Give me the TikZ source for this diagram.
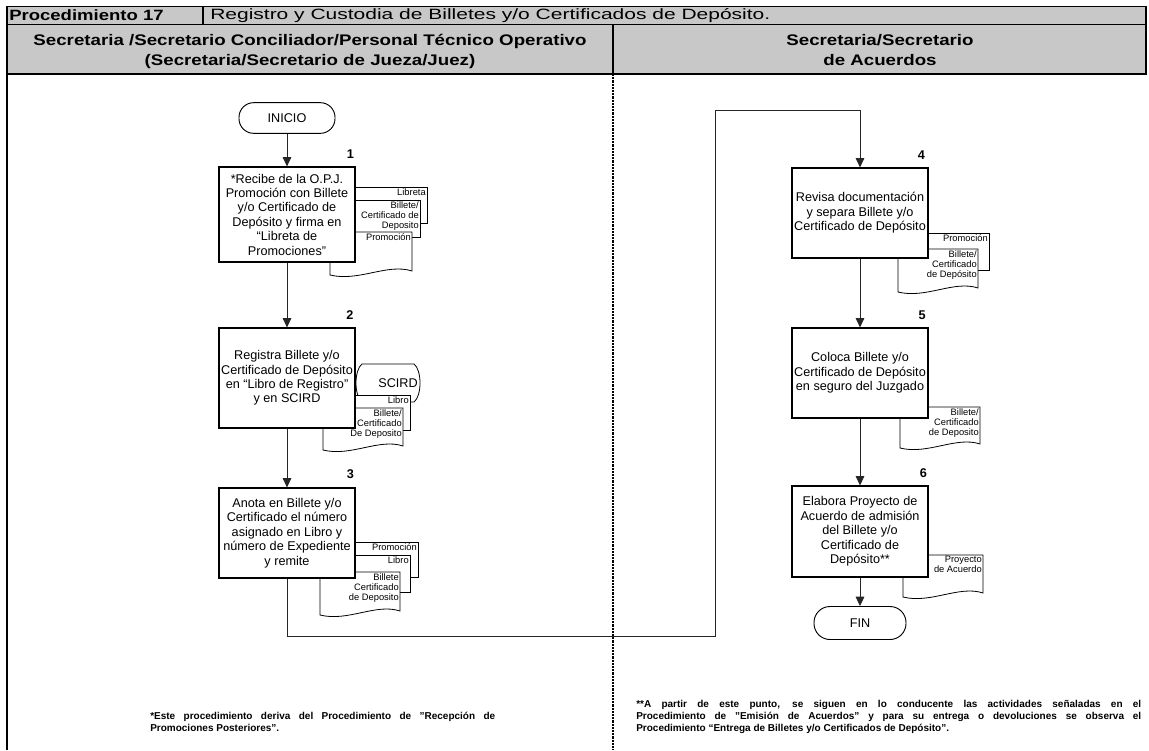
\documentclass[tikz,border=0pt]{standalone}
\usepackage{fontspec}
\setmainfont{Liberation Sans}
\usetikzlibrary{arrows.meta}
\definecolor{hdr}{RGB}{200,200,200}
\newcommand{\docrect}[4]{\draw[docline] (#1,#2) rectangle (#3,#4);}
\newcommand{\docwave}[4]{\draw[docline] (#1,#2) -- (#3,#2) -- (#3,{#4-4}) .. controls ({#3-0.3*(#3-#1)},{#4-12}) and ({#1+0.35*(#3-#1)},{#4+7}) .. (#1,#4) -- cycle;}
\begin{document}
\begin{tikzpicture}[x=0.75pt,y=-0.75pt,
  docline/.style={draw=black, fill=white, line width=0.6pt},
  stepbox/.style={draw, fill=white, line width=0.9pt, minimum width=102pt, align=center, inner sep=1pt, font=\fontsize{9.5}{10.8}\selectfont},
  term/.style={draw, fill=white, line width=0.7pt, rounded corners=11pt, minimum width=72pt, minimum height=23pt, font=\fontsize{9.5}{10.6}\selectfont},
  flow/.style={line width=0.6pt, draw=black!85},
  arr/.style={flow, -{Triangle[length=7pt,width=6.5pt]}},
  doctxt/.style={anchor=north east, align=right, inner sep=0pt, font=\fontsize{7}{7.7}\selectfont},
  stepnum/.style={anchor=south east, inner sep=0pt, font=\bfseries\fontsize{9.5}{10}\selectfont},
  hdrbold/.style={inner sep=0pt, align=center, font=\bfseries\fontsize{11.5}{15.4}\selectfont},
  foot/.style={anchor=north west, inner sep=0pt, align=justify, font=\bfseries\fontsize{7.5}{9}\selectfont}
]
\useasboundingbox (0,0) rectangle (1149,750);
% header
\fill[hdr] (7,6.5) rectangle (1146,74);
\draw[line width=0.8pt] (7,6.5) rectangle (1146,74);
\draw[line width=0.8pt] (7,24.5) -- (1146,24.5);
\draw[line width=0.8pt] (203,6.5) -- (203,24.5);
\draw[line width=0.8pt] (613,24.5) -- (613,74);
\node[anchor=west, inner sep=0pt, font=\bfseries\fontsize{11.2}{12}\selectfont] (p17) at (9,15.5) {\scalebox{1.24}[1]{Procedimiento 17}};
\node[anchor=west, inner sep=0pt, font=\fontsize{11.2}{12}\selectfont] (title) at (210,15.5) {\resizebox{420pt}{\height}{Registro y Custodia de Billetes y/o Certificados de Depósito.}};
\node[hdrbold] (lane1) at (310,51.5) {\scalebox{1.22}[1]{\begin{tabular}{@{}c@{}}Secretaria /Secretario Conciliador/Personal Técnico Operativo\\(Secretaria/Secretario de Jueza/Juez)\end{tabular}}};
\node[hdrbold] (lane2) at (880,51.5) {\scalebox{1.22}[1]{\begin{tabular}{@{}c@{}}Secretaria/Secretario\\de Acuerdos\end{tabular}}};
% body borders
\draw[line width=0.8pt] (7,74) -- (7,750);
\draw[line width=0.9pt, dash pattern=on 1.6pt off 0.8pt] (613,74) -- (613,750);

% ---- step 1
\node[term] (inicio) at (287,118) {INICIO};
\docrect{345}{187}{427}{223}
\docrect{340}{200}{420}{237}
\docwave{330}{232}{412}{275}
\node[stepbox, minimum height=71.25pt] (b1) at (287,214.5) {*Recibe de la O.P.J.\\Promoción con Billete\\y/o Certificado de\\Depósito y firma en\\“Libreta de\\Promociones”};
\node[doctxt] (d1a) at (426,188) {Libreta};
\node[doctxt] (d1b) at (419,201) {Billete/\\Certificado de\\Deposito};
\node[doctxt] (d1c) at (411,233) {Promoción};

% ---- step 2
\draw[docline] (362,364) -- (414,364) .. controls (422,370) and (422,396) .. (414,402) -- (362,402) .. controls (354,396) and (354,370) .. (362,364) -- cycle;
\docrect{345}{395}{410}{430}
\docwave{323}{408}{403}{450}
\node[stepbox, minimum height=75pt] (b2) at (287,378) {Registra Billete y/o\\Certificado de Depósito\\en “Libro de Registro”\\y en SCIRD};
\node[anchor=east, inner sep=0pt, font=\fontsize{9.5}{10}\selectfont] (scird) at (418,383) {SCIRD};
\node[doctxt] (d2a) at (409,396) {Libro};
\node[doctxt] (d2b) at (402,409) {Billete/\\Certificado\\De Deposito};

% ---- step 3
\docrect{345}{542}{418}{577}
\docrect{340}{555}{410}{592}
\docwave{320}{572}{400}{615}
\node[stepbox, minimum height=67.5pt] (b3) at (287,533) {Anota en Billete y/o\\Certificado el número\\asignado en Libro y\\número de Expediente\\y remite};
\node[doctxt] (d3a) at (417,543) {Promoción};
\node[doctxt] (d3b) at (409,556) {Libro};
\node[doctxt] (d3c) at (399,573) {Billete\\Certificado\\de Deposito};

% ---- step 4
\docrect{915}{233}{989}{270}
\docwave{898}{249}{978}{292}
\node[stepbox, minimum height=67.5pt] (b4) at (860,213) {Revisa documentación\\y separa Billete y/o\\Certificado de Depósito};
\node[doctxt] (d4a) at (988,234) {Promoción};
\node[doctxt] (d4b) at (977,250) {Billete/\\Certificado\\de Depósito};

% ---- step 5
\docwave{900}{407}{980}{448}
\node[stepbox, minimum height=67.5pt] (b5) at (860,373) {Coloca Billete y/o\\Certificado de Depósito\\en seguro del Juzgado};
\node[doctxt] (d5a) at (979,408) {Billete/\\Certificado\\de Deposito};

% ---- step 6
\docwave{903}{555}{983}{597}
\node[stepbox, minimum height=68.25pt] (b6) at (860,531.5) {Elabora Proyecto de\\Acuerdo de admisión\\del Billete y/o\\Certificado de\\Depósito**};
\node[doctxt] (d6a) at (982,556) {Proyecto\\de Acuerdo};
\node[term, minimum width=69pt, minimum height=24.75pt, rounded corners=12pt] (fin) at (860,623) {FIN};

% step numbers
\node[stepnum] (n1) at ([xshift=-1pt,yshift=6pt]b1.north east) {1};
\node[stepnum] (n2) at ([xshift=-1.5pt,yshift=6pt]b2.north east) {2};
\node[stepnum] (n3) at ([xshift=-1pt,yshift=6pt]b3.north east) {3};
\node[stepnum] (n4) at ([xshift=-2.5pt,yshift=6pt]b4.north east) {4};
\node[stepnum] (n5) at ([xshift=-2pt,yshift=6pt]b5.north east) {5};
\node[stepnum] (n6) at ([xshift=-1pt,yshift=6pt]b6.north east) {6};

% connectors
\coordinate (c1) at (287,636);
\coordinate (c2) at (715,636);
\coordinate (c3) at (715,110);
\coordinate (c4) at (860,110);
\draw[arr] (inicio) -- (b1);
\draw[arr] (b1) -- (b2);
\draw[arr] (b2) -- (b3);
\draw[arr] (b3.south) -- (c1) -- (c2) -- (c3) -- (c4) -- (b4.north);
\draw[arr] (b4) -- (b5);
\draw[arr] (b5) -- (b6);
\draw[arr] (b6) -- (fin);

% footnotes
\node[foot, text width=258.75pt] (fn1) at (150,712) {*Este procedimiento deriva del Procedimiento de "Recepción de\linebreak Promociones Posteriores".};
\node[foot, text width=378.75pt] (fn2) at (636,700) {**A partir de este punto, se siguen en lo conducente las actividades señaladas en el\linebreak Procedimiento de "Emisión de Acuerdos" y para su entrega o devoluciones se observa el\linebreak Procedimiento “Entrega de Billetes y/o Certificados de Depósito”.};
\end{tikzpicture}
\end{document}
